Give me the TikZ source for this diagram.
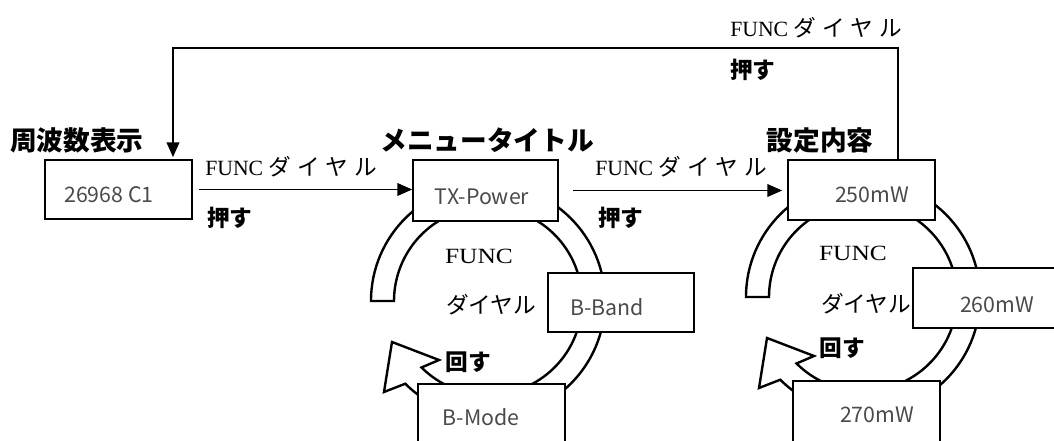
\documentclass[tikz,border=0pt]{standalone}
\usepackage{fontspec}
\usepackage{graphicx}
\setmainfont{Liberation Serif}
\newfontfamily\jp{Noto Sans CJK JP}
\usetikzlibrary{arrows.meta}
\definecolor{txtgray}{HTML}{4A4A4A}
\newcommand\dialsp{ダ\hspace{4.5pt}イ\hspace{4.5pt}ヤ\hspace{4.5pt}ル}
\tikzset{
  box/.style 2 args={draw, line width=1.3pt, fill=white, inner sep=0pt,
    minimum width=#1*0.75pt, minimum height=#2*0.75pt},
  boxtxt/.style={text=txtgray, font=\jp\fontsize{16}{18}\selectfont, inner sep=0pt},
  head/.style={font=\jp\bfseries\fontsize{20}{22}\selectfont, inner sep=0pt},
  lab/.style={font=\fontsize{16.3}{19}\selectfont, inner sep=0pt, anchor=west},
  push/.style={font=\jp\bfseries\fontsize{17}{19}\selectfont, inner sep=0pt},
  ringtxt/.style={font=\fontsize{16.3}{19}\selectfont, inner sep=0pt},
  ringjp/.style={font=\jp\fontsize{17}{19}\selectfont, inner sep=0pt},
  arr/.style={line width=0.9pt, -{Triangle[length=11pt,width=9.5pt]}},
  ringarrow/.pic={
    \draw[line width=1.8pt, fill=white, line join=miter]
      (180:117) arc[start angle=180, end angle=495, radius=117]
      -- (-104,91) -- (-96,41) -- (-49,59)
      -- (495:94) arc[start angle=495, end angle=180, radius=94] -- cycle;
  }
}
\begin{document}
\begin{tikzpicture}[x=0.75pt, y=-0.75pt]
\clip (0,0) rectangle (1054,441);
\fill[white] (0,0) rectangle (1054,441);

% rings
\pic at (488,301) {ringarrow};
\pic at (863,297) {ringarrow};

% boxes
\node[box={147}{59}] (n1) at (118.5,189.5) {};
\node[box={145}{61}] (tx) at (485.5,190.5) {};
\node[box={146}{59}] (bb) at (621,302.5) {};
\node[box={147}{72}] (bm) at (491.5,420) {};
\node[box={147}{60}] (p250) at (861.5,190) {};
\node[box={157}{60}] (p260) at (991.5,298) {};
\node[box={147}{75}] (p270) at (866.5,418.5) {};

\node[boxtxt] (t1) at (109,195) {26968 C1};
\node[boxtxt] (t2) at (482,197) {TX-Power};
\node[boxtxt] (t3) at (607,307) {B-Band};
\node[boxtxt] (t4) at (481,417) {B-Mode};
\node[boxtxt] (t5) at (872,195) {250mW};
\node[boxtxt] (t6) at (997,305) {260mW};
\node[boxtxt] (t7) at (877,415) {270mW};

% headings
\node[head] (h1) at (77,140) {周波数表示};
\node[head] (h2) at (487,140) {メニュータイトル};
\node[head] (h3) at (820,140) {設定内容};

% connectors
\draw[arr, shorten <=4.5pt] (n1) -- (n1 -| tx.west);
\draw[arr, shorten <=10.5pt, shorten >=3.75pt] (tx) -- (tx -| p250.west);
\coordinate (fbR) at (898,48);
\coordinate (fbL) at (173,48);
\draw[arr, line width=1.1pt, shorten >=1.5pt] (fbR |- p250.north) -- (fbR) -- (fbL) -- (fbL |- n1.north);

% arrow labels
\node[lab] (l1) at (205,167) {FUNC\hspace{4pt}{\jp\fontsize{17}{19}\selectfont\dialsp}};
\node[push, anchor=west] (q1) at (207,218) {押す};
\node[lab] (l2) at (595,167) {FUNC\hspace{4pt}{\jp\fontsize{17}{19}\selectfont\dialsp}};
\node[push, anchor=west] (q2) at (598,218) {押す};
\node[lab] (l3) at (730,28) {FUNC\hspace{4pt}{\jp\fontsize{17}{19}\selectfont\dialsp}};
\node[push, anchor=west] (q3) at (730,70) {押す};

% ring texts
\node[ringtxt] (r1a) at (479,256) {\scalebox{1.17}[1]{FUNC}};
\node[ringjp] (r1b) at (491,305) {ダイヤル};
\node[push] (r1c) at (468,362) {回す};
\node[ringtxt] (r2a) at (853,253) {\scalebox{1.17}[1]{FUNC}};
\node[ringjp] (r2b) at (866,304) {ダイヤル};
\node[push] (r2c) at (842,348) {回す};
\end{tikzpicture}
\end{document}
